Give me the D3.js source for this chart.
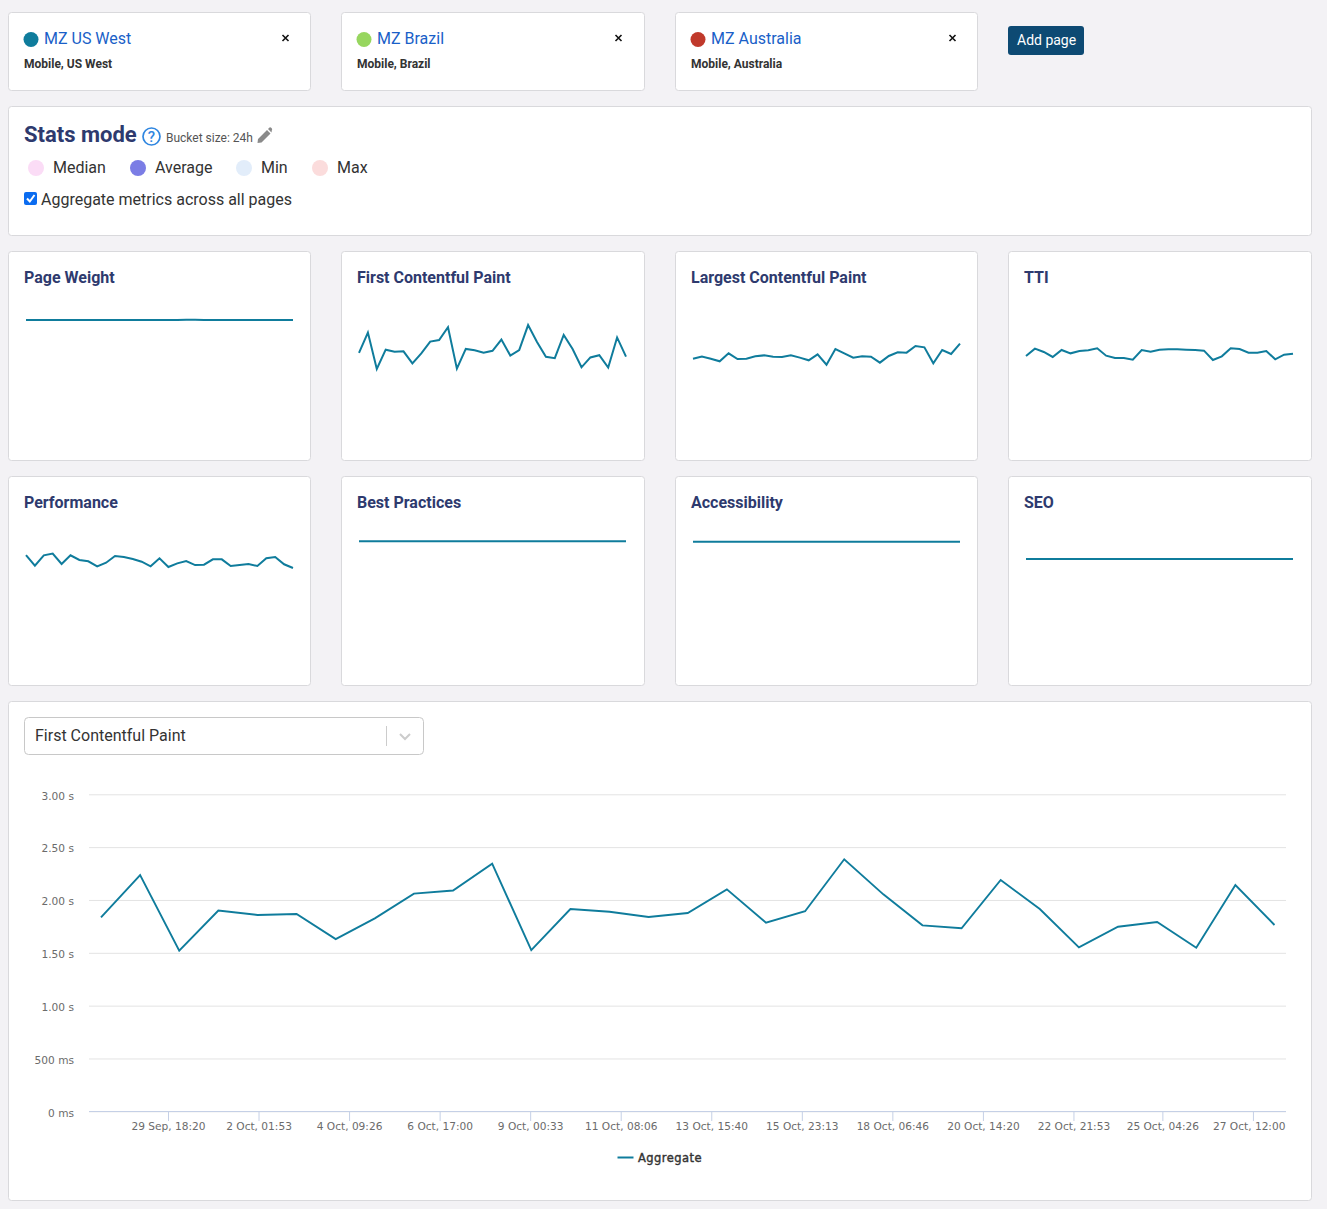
<!DOCTYPE html>
<html>
<head>
<meta charset="utf-8">
<script src="https://cdn.jsdelivr.net/npm/d3@7"></script>
<style>
  html, body { margin: 0; padding: 0; background: #f3f2f5; }
  svg { display: block; font-family: Roboto, sans-serif; }
  .axis text { font-family: "DejaVu Sans", sans-serif; font-size: 10.6px; fill: #6b6b6b; }
</style>
</head>
<body>
<svg id="page" width="1327" height="1209"></svg>
<script>
// ── DATA ──────────────────────────────────────────────────────
const pageNames = ["MZ US West", "MZ Brazil", "MZ Australia"];
const pageSubtitles = ["Mobile, US West", "Mobile, Brazil", "Mobile, Australia"];
const pageColors = ["#0f7c9c", "#97d65f", "#c0392b"];

const statNames = ["Median", "Average", "Min", "Max"];
const statColors = ["#fbdcf6", "#7b7de5", "#e2edfa", "#fbdcdc"];

const fcpValues = [1.836, 2.236, 1.52, 1.90, 1.858, 1.867, 1.63, 1.826, 2.06, 2.09, 2.343,
  1.526, 1.914, 1.889, 1.839, 1.877, 2.10, 1.785, 1.893, 2.385, 2.053, 1.76, 1.732, 2.189,
  1.914, 1.552, 1.747, 1.791, 1.548, 2.141, 1.763];
const lcpValues = [2.015, 2.062, 2.015, 1.954, 2.139, 2.008, 2.015, 2.069, 2.092, 2.062, 2.054,
  2.092, 2.039, 1.977, 2.115, 1.877, 2.239, 2.139, 2.039, 2.069, 2.062, 1.923, 2.077, 2.162,
  2.154, 2.308, 2.277, 1.908, 2.215, 2.123, 2.362];
const ttiValues = [4.847, 5.241, 5.062, 4.793, 5.17, 4.99, 5.116, 5.152, 5.259, 4.864, 4.739,
  4.739, 4.649, 5.17, 5.08, 5.187, 5.206, 5.206, 5.187, 5.17, 5.134, 4.631, 4.829, 5.259,
  5.223, 5.026, 5.026, 5.116, 4.667, 4.918, 4.972];
const weightValues = [1.94, 1.94, 1.94, 1.94, 1.94, 1.94, 1.94, 1.94, 1.94, 1.94, 1.94,
  1.94, 1.94, 1.94, 1.94, 1.94, 1.94, 1.94, 1.942, 1.942, 1.94, 1.94, 1.94, 1.94,
  1.94, 1.94, 1.94, 1.94, 1.94, 1.94, 1.94];
const performanceValues = [89.2, 81.0, 89.0, 90.3, 82.3, 89.0, 85.4, 84.4, 80.5, 83.3, 88.5,
  87.7, 86.2, 84.1, 80.5, 86.7, 80.0, 82.8, 84.6, 81.5, 81.8, 85.9, 85.9, 80.8,
  81.5, 82.3, 80.8, 86.7, 87.7, 82.1, 79.2];
const bestPracticesValues = [99.8, 99.8, 99.8, 99.8, 99.8, 99.8, 99.8, 99.8, 99.8, 99.8, 99.8,
  99.8, 99.8, 99.8, 99.8, 99.8, 99.8, 99.8, 99.8, 99.8, 99.8, 99.8, 99.8, 99.8,
  99.8, 99.8, 99.8, 99.8, 99.8, 99.8, 99.8];
const accessibilityValues = [99.4, 99.4, 99.4, 99.4, 99.4, 99.4, 99.4, 99.4, 99.4, 99.4, 99.4,
  99.4, 99.4, 99.4, 99.4, 99.4, 99.4, 99.4, 99.4, 99.4, 99.4, 99.4, 99.4, 99.4,
  99.4, 99.4, 99.4, 99.4, 99.4, 99.4, 99.4];
const seoValues = [86.1, 86.1, 86.1, 86.1, 86.1, 86.1, 86.1, 86.1, 86.1, 86.1, 86.1,
  86.1, 86.1, 86.1, 86.1, 86.1, 86.1, 86.1, 86.1, 86.1, 86.1, 86.1, 86.1, 86.1,
  86.1, 86.1, 86.1, 86.1, 86.1, 86.1, 86.1];

const metricNames = ["Page Weight", "First Contentful Paint", "Largest Contentful Paint", "TTI",
  "Performance", "Best Practices", "Accessibility", "SEO"];
const metricSeries = [weightValues, fcpValues, lcpValues, ttiValues,
  performanceValues, bestPracticesValues, accessibilityValues, seoValues];
const metricMaxima = [2.0, 2.564, 3, 7, 100, 100, 100, 100];

const yTickValues = [0, 0.5, 1, 1.5, 2, 2.5, 3];
const yTickLabels = ["0 ms", "500 ms", "1.00 s", "1.50 s", "2.00 s", "2.50 s", "3.00 s"];
const xTickLabels = ["29 Sep, 18:20", "2 Oct, 01:53", "4 Oct, 09:26", "6 Oct, 17:00",
  "9 Oct, 00:33", "11 Oct, 08:06", "13 Oct, 15:40", "15 Oct, 23:13", "18 Oct, 06:46",
  "20 Oct, 14:20", "22 Oct, 21:53", "25 Oct, 04:26", "27 Oct, 12:00"];
const firstBucket = "28 Sep, 01:14";
const bucketHours = 24;

// ── PAGE LAYOUT ───────────────────────────────────────────────
const titleColor = "#2e3a6e";
const textColor = "#333";
const lineColor = "#0f7c9c";
const columnsX = [8, 341, 675, 1008];
const columnsW = [302, 303, 302, 303];

const svg = d3.select("#page");

const drawCard = (x, y, w, h) => svg.append("rect")
  .attr("x", x + 0.5)
  .attr("y", y + 0.5)
  .attr("width", w)
  .attr("height", h)
  .attr("rx", 3)
  .attr("fill", "white")
  .attr("stroke", "#d9d9dc");

const label = (x, y, text, size, color, weight) => svg.append("text")
  .attr("x", x)
  .attr("y", y)
  .attr("fill", color)
  .style("font-size", `${size}px`)
  .style("font-weight", weight || 400)
  .text(text);

// ── Page cards ────────────────────────────────────────────────
pageNames.forEach((name, i) => {
  const x = columnsX[i];
  drawCard(x, 12, columnsW[i], 78);
  svg.append("circle")
    .attr("cx", x + 23)
    .attr("cy", 39.5)
    .attr("r", 7.5)
    .attr("fill", pageColors[i]);
  label(x + 36, 44, name, 16, "#1a5fc8");
  label(x + 16, 68, pageSubtitles[i], 12, textColor, 700);
  svg.append("path")
    .attr("d", `M${x + 274.5},35 l6,6 m0,-6 l-6,6`)
    .attr("stroke", "#111")
    .attr("stroke-width", 1.6)
    .attr("fill", "none");
});

// Add page button
svg.append("rect")
  .attr("x", 1008)
  .attr("y", 26)
  .attr("width", 76)
  .attr("height", 29)
  .attr("rx", 3)
  .attr("fill", "#0d4a73");
label(1017, 45, "Add page", 14, "white");

// ── Stats mode card ───────────────────────────────────────────
drawCard(8, 106, 1303, 129);
label(24, 142, "Stats mode", 22, titleColor, 700);

svg.append("circle")
  .attr("cx", 151.5)
  .attr("cy", 136.5)
  .attr("r", 8.5)
  .attr("fill", "white")
  .attr("stroke", "#2f86e0")
  .attr("stroke-width", 1.7);
label(151.5, 142, "?", 15, "#2f86e0", 500).attr("text-anchor", "middle");
label(166, 142, "Bucket size: 24h", 12, "#555");

// pencil icon
svg.append("path")
  .attr("d", "M258,139 L267,130 L270.5,133.5 L261.5,142.5 L257.5,143 Z M268,129 L269.5,127.5 Q270.5,127 271.5,128 L272,128.7 Q272.5,129.5 271.8,130.5 L271.5,132.5 Z")
  .attr("fill", "#8a8a8a");

const statX = [36, 138, 244, 320];
statNames.forEach((name, i) => {
  svg.append("circle")
    .attr("cx", statX[i])
    .attr("cy", 168)
    .attr("r", 8)
    .attr("fill", statColors[i]);
  label(statX[i] + 17, 173, name, 16, textColor);
});

// checkbox
svg.append("rect")
  .attr("x", 24)
  .attr("y", 192)
  .attr("width", 13)
  .attr("height", 13)
  .attr("rx", 2)
  .attr("fill", "#0b6cf0");
svg.append("path")
  .attr("d", "M27,198.5 L29.8,201.5 L34.5,195")
  .attr("stroke", "white")
  .attr("stroke-width", 2)
  .attr("fill", "none");
label(41, 205, "Aggregate metrics across all pages", 16, textColor);

// ── Sparkline cards ───────────────────────────────────────────
metricNames.forEach((name, i) => {
  const x0 = columnsX[i % 4];
  const y0 = i < 4 ? 251 : 476;
  drawCard(x0, y0, columnsW[i % 4], 209);
  label(x0 + 16, y0 + 32, name, 16, titleColor, 700);

  const sparkX = d3.scaleLinear()
    .domain([0, metricSeries[i].length - 1])
    .range([x0 + 18, x0 + 285]);
  const sparkY = d3.scaleLinear()
    .domain([0, metricMaxima[i]])
    .range([y0 + 195, y0 + 65]);
  const sparkLine = d3.line()
    .x((d, j) => sparkX(j))
    .y(d => sparkY(d));

  svg.append("path")
    .datum(metricSeries[i])
    .attr("d", sparkLine)
    .attr("fill", "none")
    .attr("stroke", lineColor)
    .attr("stroke-width", 2);
});

// ── Main chart ────────────────────────────────────────────────
drawCard(8, 701, 1303, 499);

// metric select box
svg.append("rect")
  .attr("x", 24.5)
  .attr("y", 717.5)
  .attr("width", 399)
  .attr("height", 37)
  .attr("rx", 4)
  .attr("fill", "white")
  .attr("stroke", "#c8c8c8");
label(35, 741, metricNames[1], 16, textColor);
svg.append("line")
  .attr("x1", 386.5)
  .attr("x2", 386.5)
  .attr("y1", 726)
  .attr("y2", 746)
  .attr("stroke", "#ccc");
svg.append("path")
  .attr("d", "M400,734 L405,739 L410,734")
  .attr("stroke", "#ccc")
  .attr("stroke-width", 2)
  .attr("fill", "none");

const parseTick = d3.utcParse("%d %b, %H:%M");
const startTime = parseTick(firstBucket);
const bucketTimes = fcpValues.map((d, i) => d3.utcHour.offset(startTime, i * bucketHours));

const xScale = d3.scaleTime()
  .domain([startTime, bucketTimes[bucketTimes.length - 1]])
  .range([101, 1274.5]);
const yScale = d3.scaleLinear()
  .domain([0, 3])
  .range([1111.3, 794.3]);

// gridlines + y labels
const yAxis = svg.append("g")
  .attr("class", "axis")
  .attr("transform", "translate(89, 0)")
  .call(d3.axisLeft(yScale)
    .tickValues(yTickValues)
    .tickFormat((d, i) => yTickLabels[i])
    .tickSize(-1197)
    .tickPadding(15));
yAxis.select(".domain").remove();
yAxis.selectAll("line").attr("stroke", "#e3e3e3");
yAxis.selectAll("text").attr("dy", "0.45em");

// x axis
const xAxis = svg.append("g")
  .attr("class", "axis")
  .attr("transform", "translate(0, 1111)")
  .call(d3.axisBottom(xScale)
    .tickValues(xTickLabels.map(parseTick))
    .tickFormat((d, i) => xTickLabels[i])
    .tickSize(10)
    .tickPadding(0));
xAxis.select(".domain")
  .attr("d", "M89,0.5H1286")
  .attr("stroke", "#c5d0e6");
xAxis.selectAll("line").attr("stroke", "#c5d0e6");
xAxis.selectAll("text").attr("y", 19).attr("dy", 0);

// last label is pushed left to stay inside the plot
xAxis.selectAll(".tick:last-of-type text")
  .attr("text-anchor", "end")
  .attr("x", 32);

const mainLine = d3.line()
  .x((d, i) => xScale(bucketTimes[i]))
  .y(d => yScale(d));

svg.append("path")
  .datum(fcpValues)
  .attr("d", mainLine)
  .attr("fill", "none")
  .attr("stroke", lineColor)
  .attr("stroke-width", 1.9);

// legend
svg.append("line")
  .attr("x1", 617.5)
  .attr("x2", 633.5)
  .attr("y1", 1157.5)
  .attr("y2", 1157.5)
  .attr("stroke", lineColor)
  .attr("stroke-width", 2);
label(638, 1162, "Aggregate", 11.5, textColor)
  .style("font-family", '"DejaVu Sans", sans-serif')
  .style("letter-spacing", "0.45px")
  .attr("stroke", textColor)
  .attr("stroke-width", 0.4);
</script>
</body>
</html>
